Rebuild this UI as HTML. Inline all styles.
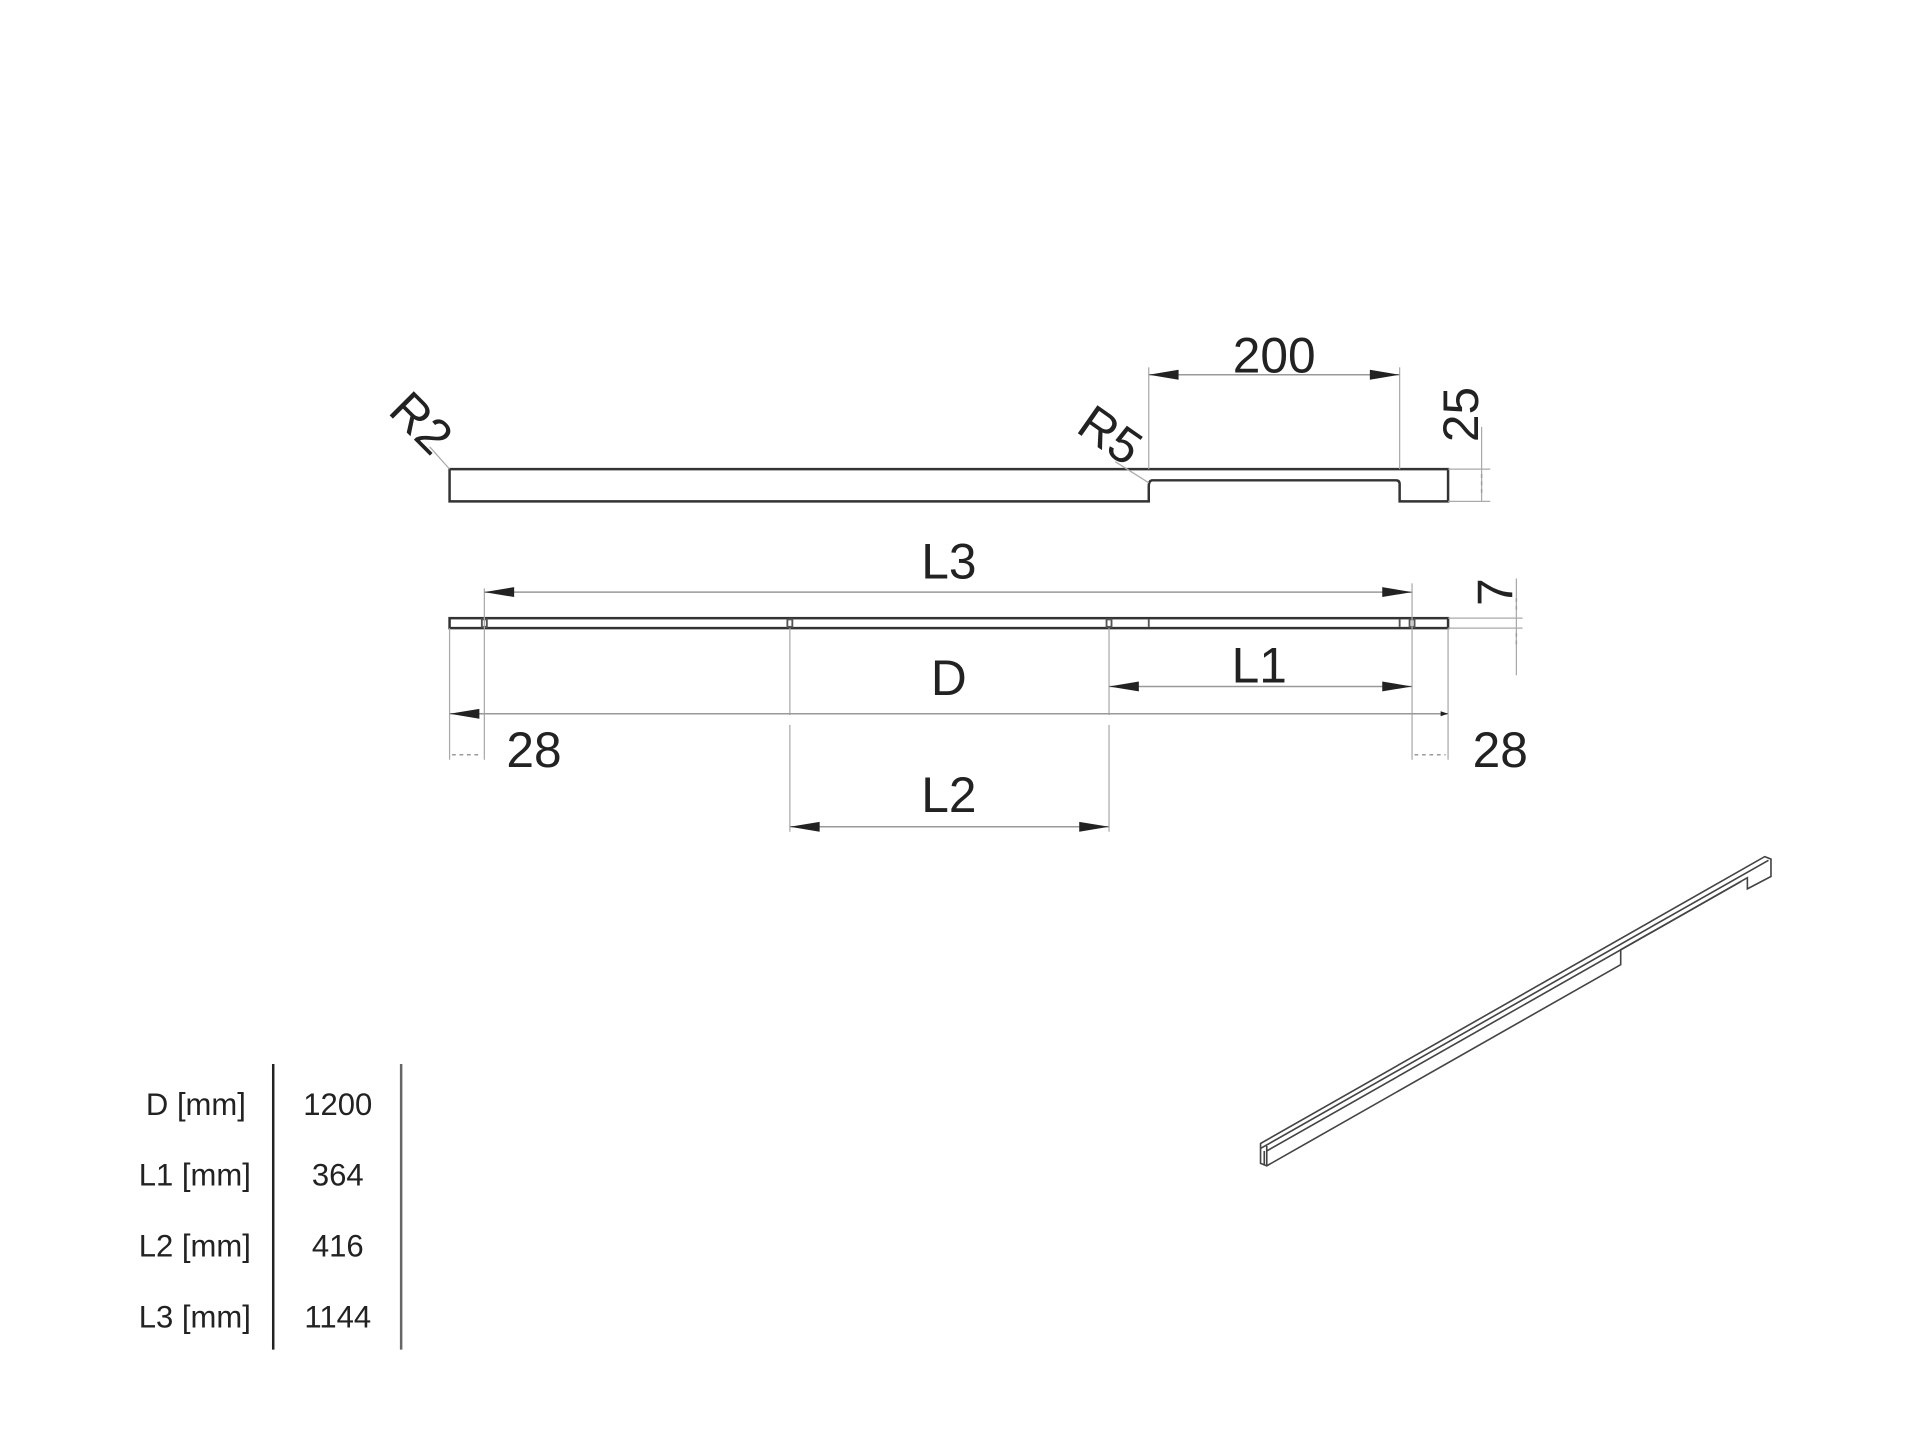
<!DOCTYPE html>
<html><head><meta charset="utf-8"><style>
html,body{margin:0;padding:0;background:#fff;width:1920px;height:1440px;overflow:hidden}
svg{display:block}
text{font-family:"Liberation Sans",sans-serif;fill:#222}
</style></head><body>
<svg width="1920" height="1440" viewBox="0 0 1546 1152" xmlns="http://www.w3.org/2000/svg">
<g fill="none" stroke="#333" stroke-width="2">
<path d="M362,374 H1166 V400 H1127 V386 Q1127,383 1124,383 H928 Q925,383 925,388 V400 H362 Z"/>
<rect x="362" y="494" width="804" height="8"/>
</g>
<g stroke="#555" stroke-width="1.5" fill="none">
<rect x="388" y="495" width="4" height="6"/><rect x="634" y="495" width="4" height="6"/><rect x="891" y="495" width="4" height="6"/>
<line x1="925" y1="495" x2="925" y2="501"/><line x1="1127" y1="495" x2="1127" y2="501"/><rect x="1135" y="495" width="4" height="6"/>
</g>
<g stroke="#aaa" stroke-width="1" fill="none">
<line x1="362" y1="374" x2="346" y2="356"/>
<line x1="925" y1="385" x2="898" y2="368"/>
<line x1="925" y1="292" x2="925" y2="374"/><line x1="1127" y1="292" x2="1127" y2="374"/>
<line x1="1166" y1="374" x2="1200" y2="374"/><line x1="1166" y1="400" x2="1200" y2="400"/>
<line x1="1193" y1="340" x2="1193" y2="400"/>
<line x1="1166" y1="494" x2="1226" y2="494"/><line x1="1166" y1="502" x2="1226" y2="502"/>
<line x1="1221" y1="462" x2="1221" y2="540"/>
<line x1="362" y1="502" x2="362" y2="608"/>
<line x1="390" y1="470" x2="390" y2="608"/>
<line x1="636" y1="502" x2="636" y2="572"/><line x1="636" y1="580" x2="636" y2="666"/>
<line x1="893" y1="502" x2="893" y2="572"/><line x1="893" y1="580" x2="893" y2="666"/>
<line x1="1137" y1="466" x2="1137" y2="608"/>
<line x1="1166" y1="502" x2="1166" y2="608"/>
</g>
<g stroke="#999" stroke-width="1.2">
<line x1="925" y1="298" x2="1127" y2="298"/>
<line x1="390" y1="473" x2="1137" y2="473"/>
<line x1="893" y1="549" x2="1137" y2="549"/>
<line x1="362" y1="571" x2="1166" y2="571"/>
<line x1="636" y1="662" x2="893" y2="662"/>
<line x1="364" y1="604" x2="388" y2="604" stroke-dasharray="3 3"/>
<line x1="1139" y1="604" x2="1164" y2="604" stroke-dasharray="3 3"/>
<line x1="1193" y1="378" x2="1193" y2="396" stroke-dasharray="3 3"/>
<line x1="1221" y1="478" x2="1221" y2="490" stroke-dasharray="3 3"/>
<line x1="1221" y1="506" x2="1221" y2="518" stroke-dasharray="3 3"/>
</g>
<g fill="#222">
<path d="M925,298 l24,-4 v8 z"/><path d="M1127,298 l-24,-4 v8 z"/>
<path d="M390,473 l24,-4 v8 z"/><path d="M1137,473 l-24,-4 v8 z"/>
<path d="M893,549 l24,-4 v8 z"/><path d="M1137,549 l-24,-4 v8 z"/>
<path d="M362,571 l24,-4 v8 z"/><path d="M1166,571 l-6,-2 v4 z"/>
<path d="M636,662 l24,-4 v8 z"/><path d="M893,662 l-24,-4 v8 z"/>
</g>
<g font-size="40" text-anchor="middle">
<text x="1026" y="296">200</text>
<text transform="translate(338,338) rotate(45)" x="0" y="12">R2</text>
<text transform="translate(893,348) rotate(35)" x="0" y="12">R5</text>
<text transform="translate(1190,330) rotate(-90)" x="0" y="0">25</text>
<text transform="translate(1218,473) rotate(-90)" x="0" y="0">7</text>
<text x="764" y="462">L3</text>
<text x="764" y="556">D</text>
<text x="1014" y="546">L1</text>
<text x="430" y="614">28</text>
<text x="1208" y="614">28</text>
<text x="764" y="650">L2</text>
</g>
<g font-size="25" fill="#333">
<text x="198" y="894" text-anchor="end">D [mm]</text>
<text x="202" y="951" text-anchor="end">L1 [mm]</text>
<text x="202" y="1008" text-anchor="end">L2 [mm]</text>
<text x="202" y="1065" text-anchor="end">L3 [mm]</text>
<text x="272" y="894" text-anchor="middle">1200</text>
<text x="272" y="951" text-anchor="middle">364</text>
<text x="272" y="1008" text-anchor="middle">416</text>
<text x="272" y="1065" text-anchor="middle">1144</text>
</g>
<line x1="220" y1="853" x2="220" y2="1083" stroke="#222" stroke-width="2"/>
<line x1="323" y1="853" x2="323" y2="1083" stroke="#666" stroke-width="2"/>
<g fill="none" stroke="#444" stroke-width="1.3">
<path d="M1015,917 L1421,686 L1426,688 L1426,702 L1407,712 L1407,703 L1305,761 L1305,773 L1020,935 L1015,933 Z"/>
<line x1="1015" y1="921" x2="1424" y2="689"/>
<line x1="1020" y1="919" x2="1020" y2="935"/>
<line x1="1018" y1="923" x2="1018" y2="934"/>
<line x1="1020" y1="923" x2="1402" y2="706"/>
</g>
</svg>
</body></html>
